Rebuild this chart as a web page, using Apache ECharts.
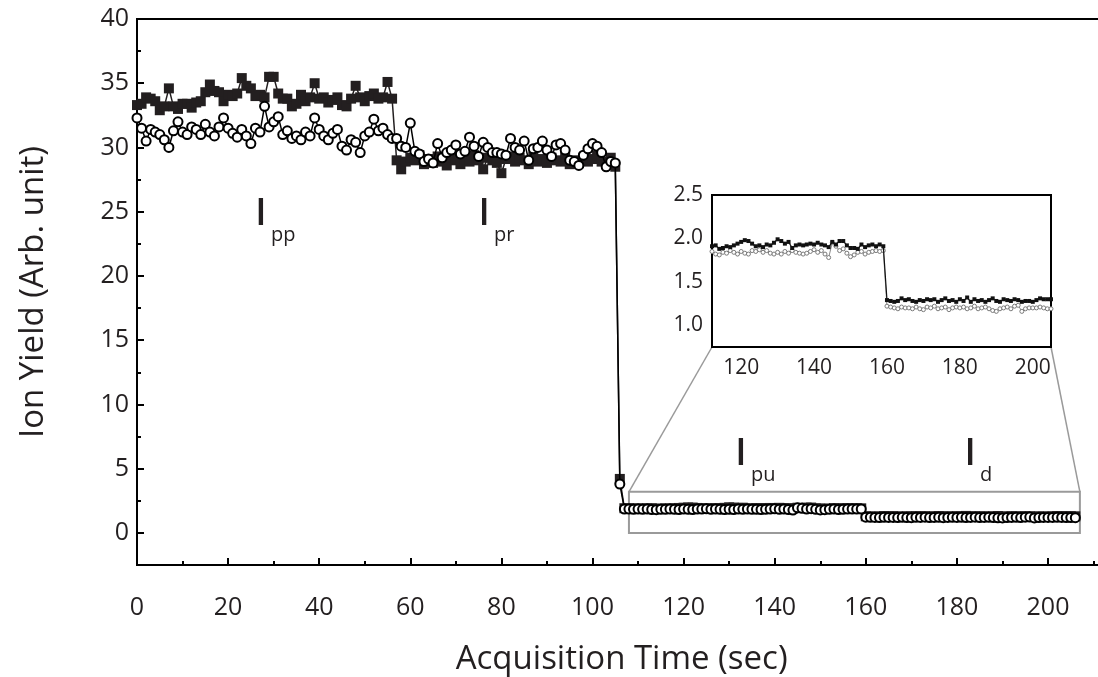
<!DOCTYPE html>
<html><head><meta charset="utf-8">
<script src="https://cdn.jsdelivr.net/npm/echarts@6/dist/echarts.min.js"></script>
<style>html,body{margin:0;padding:0;background:#fff;}#c{width:1098px;height:677px;}</style>
</head><body><div id="c"></div>
<script>
// Acquisition: one sample per second (time = sample index * SAMPLE_PERIOD)
const SAMPLE_PERIOD = 1;

// Filled squares, t = 0 .. 206 s
const filledSquares = [
  // 0-56 (pump+probe)
  33.3,33.4,33.9,33.8,33.6,32.9,33.2,34.6,33.2,33.0,
  33.4,33.4,33.1,33.5,33.6,34.3,34.9,34.4,34.3,33.6,
  34.1,34.0,34.2,35.4,34.8,34.6,34.0,34.1,33.9,35.5,
  35.5,34.2,33.8,33.8,33.2,33.4,34.1,33.6,33.9,35.0,
  33.8,33.9,33.5,33.7,33.9,33.3,33.2,33.8,34.8,33.9,
  33.6,34.0,34.2,33.8,33.9,35.1,33.8,
  // 57-105 (probe)
  29.0,28.3,28.9,29.2,29.0,29.4,28.7,29.1,28.8,29.3,
  28.9,28.6,29.2,29.0,28.7,29.1,28.9,29.4,29.0,28.3,
  29.2,29.0,28.8,28.0,29.1,29.3,28.9,29.2,29.0,28.7,
  29.3,28.9,29.1,28.8,29.2,29.0,28.9,29.3,28.7,29.0,
  28.8,29.2,28.9,29.1,29.4,28.9,28.7,29.2,28.5,
  // 106
  4.2,
  // 107-159 (pump)
  1.92,1.92,1.91,1.90,1.91,1.91,1.92,1.88,1.89,1.91,
  1.90,1.92,1.94,1.96,1.98,1.97,1.94,1.91,1.92,1.90,
  1.93,1.92,1.95,1.99,1.97,1.94,1.96,1.89,1.92,1.93,
  1.92,1.93,1.94,1.93,1.95,1.93,1.92,1.90,1.96,1.93,
  1.97,1.97,1.92,1.89,1.89,1.88,1.93,1.90,1.92,1.93,
  1.91,1.93,1.91,
  // 160-206 (dark)
  1.29,1.28,1.27,1.28,1.31,1.29,1.30,1.28,1.27,1.29,
  1.28,1.30,1.29,1.30,1.27,1.29,1.31,1.28,1.29,1.27,
  1.30,1.28,1.32,1.27,1.30,1.28,1.29,1.27,1.29,1.31,
  1.28,1.27,1.30,1.29,1.28,1.30,1.29,1.27,1.28,1.28,
  1.27,1.29,1.31,1.30,1.30,1.30,1.29
];

// Open circles, t = 0 .. 206 s
const openCircles = [
  32.3,31.5,30.5,31.4,31.2,31.0,30.6,30.0,31.3,32.0,
  31.2,31.0,31.6,31.4,31.0,31.8,31.2,30.9,31.6,32.3,
  31.5,31.1,30.8,31.4,30.9,30.3,31.5,31.2,33.2,31.6,
  32.0,32.4,31.0,31.3,30.7,30.9,30.6,31.2,30.9,32.3,
  31.4,30.9,30.6,31.1,31.4,30.1,29.8,30.6,30.4,29.6,
  30.9,31.2,32.2,31.3,31.5,31.0,30.7,
  30.7,30.1,30.0,31.9,29.7,29.5,28.9,29.1,28.8,30.3,
  29.2,29.6,29.8,30.2,29.5,29.7,30.8,30.1,29.3,30.4,
  30.0,29.6,29.6,29.5,29.4,30.7,30.0,29.8,30.5,29.0,
  29.9,30.0,30.5,29.8,29.3,30.2,30.3,29.8,29.0,28.9,
  28.6,29.4,29.9,30.3,30.1,29.6,28.5,28.9,28.8,
  3.8,
  1.86,1.85,1.84,1.85,1.83,1.85,1.82,1.81,1.84,1.83,
  1.86,1.84,1.82,1.85,1.83,1.82,1.86,1.85,1.87,1.84,
  1.86,1.83,1.82,1.84,1.82,1.85,1.83,1.86,1.84,1.83,
  1.82,1.83,1.85,1.87,1.84,1.86,1.82,1.78,1.95,1.91,
  1.86,1.88,1.83,1.79,1.81,1.84,1.85,1.82,1.84,1.85,
  1.86,1.85,1.86,
  1.22,1.21,1.20,1.19,1.21,1.20,1.20,1.19,1.21,1.19,
  1.18,1.21,1.20,1.22,1.19,1.20,1.21,1.18,1.20,1.21,
  1.20,1.21,1.19,1.20,1.22,1.19,1.20,1.21,1.19,1.17,
  1.16,1.19,1.20,1.21,1.19,1.22,1.23,1.16,1.19,1.20,
  1.20,1.20,1.21,1.20,1.19,1.19,1.18
];

// Axis ranges
const mainX = [0, 215], mainY = [-2.5, 40];
const insetX = [112, 205], insetY = [0.75, 2.5];
// Zoomed region marked in main plot
const zoomBox = [[108, 0], [207, 3.2]];
// Region labels: [x, y, main letter, subscript]
const regionLabels = [
  [27.2, 24.8, 'I', 'pp'],
  [76.2, 24.8, 'I', 'pr'],
  [132.6, 6.1, 'I', 'pu'],
  [182.9, 6.1, 'I', 'd']
];

const toXY = arr => arr.map((v, i) => [i * SAMPLE_PERIOD, v]);
const filledXY = toXY(filledSquares);
const openXY = toXY(openCircles);
const insetFilled = filledXY.filter(p => p[0] >= insetX[0] - 1);
const insetOpen = openXY.filter(p => p[0] >= insetX[0] - 1);

const TXT = '#231f20';
const FONT = 'Open Sans';

const chart = echarts.init(document.getElementById('c'), null, {renderer: 'canvas'});

const hideAxis = {show: false};
const lineOff = {show: false, onZero: false};
const option = {
  animation: false,
  backgroundColor: '#fff',
  grid: [
    {left: 137, top: 19, width: (1048 - 137) / 200 * (mainX[1] - mainX[0]), height: 546,
     outerBoundsMode: 'none', containLabel: false,
     show: true, borderColor: '#000', borderWidth: 2, backgroundColor: 'transparent'},
    {left: 712, top: 195, width: 339, height: 152, outerBoundsMode: 'none', containLabel: false,
     show: true, borderColor: '#000', borderWidth: 2, backgroundColor: '#fff', z: 5}
  ],
  xAxis: [
    {type: 'value', gridIndex: 0, position: 'bottom', min: mainX[0], max: mainX[1], interval: 20,
     axisLine: {onZero: false, lineStyle: {color: '#000', width: 2}},
     axisTick: {inside: true, length: 7, lineStyle: {color: '#000', width: 2}},
     axisLabel: {margin: 30, color: TXT, fontFamily: FONT, fontSize: 25,
       formatter: v => (v <= 200 ? String(v) : '')},
     splitLine: hideAxis,
     name: 'Acquisition Time (sec)', nameLocation: 'middle', nameGap: 78,
     nameTextStyle: {color: TXT, fontFamily: FONT, fontSize: 33, padding: [0, 10, 0, 0]}},
    {type: 'value', gridIndex: 0, position: 'bottom', min: mainX[0], max: mainX[1], interval: 10,
     axisLine: lineOff, axisLabel: hideAxis, splitLine: hideAxis,
     axisTick: {inside: true, length: 4, lineStyle: {color: '#000', width: 2}}},
    {type: 'value', gridIndex: 1, position: 'bottom', min: insetX[0], max: insetX[1], splitNumber: 5,
     axisLine: {onZero: false, lineStyle: {color: '#000', width: 2}},
     axisTick: {inside: true, length: 7, lineStyle: {color: '#000', width: 2}},
     axisLabel: {margin: 11, color: TXT, fontFamily: FONT, fontSize: 21,
       formatter: v => (v % 20 === 0 ? String(v) : '')},
     splitLine: hideAxis},
    {type: 'value', gridIndex: 1, position: 'bottom', min: insetX[0], max: insetX[1], splitNumber: 10,
     axisLine: lineOff, axisLabel: hideAxis, splitLine: hideAxis,
     axisTick: {inside: true, length: 4, lineStyle: {color: '#000', width: 2}}}
  ],
  yAxis: [
    {type: 'value', gridIndex: 0, position: 'left', min: mainY[0], max: mainY[1], splitNumber: 8,
     axisLine: {onZero: false, lineStyle: {color: '#000', width: 2}},
     axisTick: {inside: true, length: 7, lineStyle: {color: '#000', width: 2}},
     axisLabel: {margin: 8, color: TXT, fontFamily: FONT, fontSize: 25,
       formatter: v => (v >= 0 && v % 5 === 0 ? String(v) : '')},
     splitLine: hideAxis,
     name: 'Ion Yield (Arb. unit)', nameLocation: 'middle', nameGap: 87,
     nameTextStyle: {color: TXT, fontFamily: FONT, fontSize: 33}},
    {type: 'value', gridIndex: 0, position: 'left', min: mainY[0], max: mainY[1], interval: 2.5,
     axisLine: lineOff, axisLabel: hideAxis, splitLine: hideAxis,
     axisTick: {inside: true, length: 4, lineStyle: {color: '#000', width: 2}}},
    {type: 'value', gridIndex: 1, position: 'left', min: insetY[0], max: insetY[1], splitNumber: 4,
     axisLine: {onZero: false, lineStyle: {color: '#000', width: 2}},
     axisTick: {inside: true, length: 7, lineStyle: {color: '#000', width: 2}},
     axisLabel: {margin: 9, color: TXT, fontFamily: FONT, fontSize: 21,
       formatter: v => (v >= 1 && Math.abs(v * 2 - Math.round(v * 2)) < 1e-9 ? v.toFixed(1) : '')},
     splitLine: hideAxis},
    {type: 'value', gridIndex: 1, position: 'left', min: insetY[0], max: insetY[1], interval: 0.25,
     axisLine: lineOff, axisLabel: hideAxis, splitLine: hideAxis,
     axisTick: {inside: true, length: 4, lineStyle: {color: '#000', width: 2}}}
  ],
  series: [
    {type: 'line', name: 'filled', xAxisIndex: 0, yAxisIndex: 0, data: filledXY,
     symbol: 'rect', symbolSize: 10, showAllSymbol: true,
     itemStyle: {color: '#231f20'}, lineStyle: {color: '#231f20', width: 1.5}, z: 3,
     markArea: {silent: true, itemStyle: {color: 'rgba(0,0,0,0)', borderColor: '#9a9a9a', borderWidth: 2},
       data: [[{coord: zoomBox[0]}, {coord: zoomBox[1]}]]}},
    {type: 'line', name: 'open', xAxisIndex: 0, yAxisIndex: 0, data: openXY,
     symbol: 'circle', symbolSize: 9, showAllSymbol: true,
     itemStyle: {color: '#fff', borderColor: '#000', borderWidth: 2},
     lineStyle: {color: '#000', width: 1.5}, z: 4},
    {type: 'line', name: 'insetOpen', xAxisIndex: 2, yAxisIndex: 2, data: insetOpen,
     symbol: 'circle', symbolSize: 4, showAllSymbol: true, clip: true,
     itemStyle: {color: '#fff', borderColor: '#7a7a7a', borderWidth: 1},
     lineStyle: {color: '#8a8a8a', width: 1}, z: 6},
    {type: 'line', name: 'insetFilled', xAxisIndex: 2, yAxisIndex: 2, data: insetFilled,
     symbol: 'rect', symbolSize: 4, showAllSymbol: true, clip: true,
     itemStyle: {color: '#111'}, lineStyle: {color: '#111', width: 1.2}, z: 7}
  ]
};
chart.setOption(option);

// Connector lines and region labels, placed through the chart's own coordinate systems
const px = (xIdx, yIdx, pt) => chart.convertToPixel({xAxisIndex: xIdx, yAxisIndex: yIdx}, pt);
const boxTL = px(0, 0, [zoomBox[0][0], zoomBox[1][1]]);
const boxTR = px(0, 0, [zoomBox[1][0], zoomBox[1][1]]);
const insBL = px(2, 2, [insetX[0], insetY[0]]);
const insBR = px(2, 2, [insetX[1], insetY[0]]);
const graphics = [
  {type: 'line', shape: {x1: boxTL[0], y1: boxTL[1], x2: insBL[0], y2: insBL[1]},
   style: {stroke: '#9a9a9a', lineWidth: 1.5}, z: 2},
  {type: 'line', shape: {x1: boxTR[0], y1: boxTR[1], x2: insBR[0], y2: insBR[1]},
   style: {stroke: '#9a9a9a', lineWidth: 1.5}, z: 2}
];
regionLabels.forEach(([x, y, main, sub]) => {
  const p = px(0, 0, [x, y]);
  graphics.push({type: 'text', x: p[0], y: p[1], z: 10,
    style: {text: main, fill: TXT, font: '600 37px "Open Sans"', align: 'center', verticalAlign: 'middle'}});
  graphics.push({type: 'text', x: p[0] + 10, y: p[1] + 21, z: 10,
    style: {text: sub, fill: TXT, font: '20px "Open Sans"', align: 'left', verticalAlign: 'middle'}});
});
chart.setOption({graphic: graphics});
</script></body></html>
